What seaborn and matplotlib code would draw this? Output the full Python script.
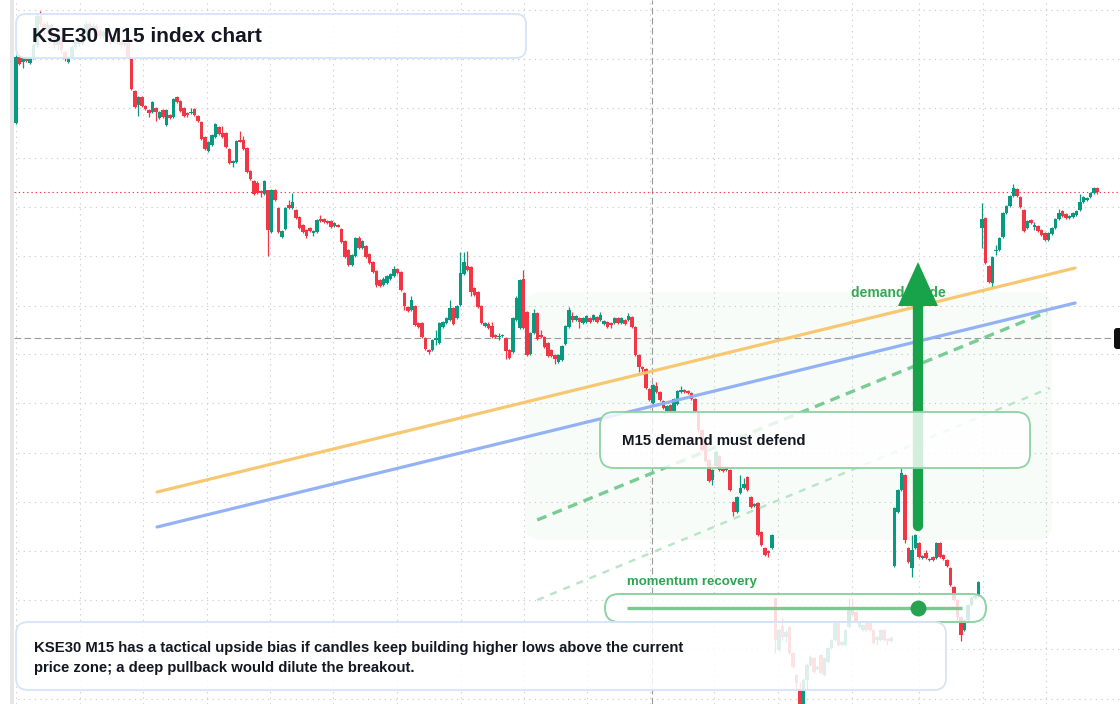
import numpy as np
import pandas as pd
import matplotlib
matplotlib.use("Agg")
import matplotlib.pyplot as plt
import seaborn as sns
from matplotlib.patches import FancyBboxPatch, Polygon, Rectangle
from matplotlib.transforms import IdentityTransform

# ---------------- data (M15 candles, index points) ----------------
opens = [
    877, 943, 938, 942, 937, 942, 955, 984, 976, 970,
    975, 965, 955, 962, 948, 938, 943, 953, 960, 956,
    967, 976, 970, 974, 969, 964, 968, 962, 959, 963,
    958, 955, 957, 942, 909, 895, 903, 894, 890, 888,
    892, 882, 890, 875, 885, 883, 903, 899, 892, 887,
    887, 891, 884, 878, 863, 849, 855, 863, 873, 867,
    867, 851, 837, 838, 860, 860, 852, 829, 819, 817,
    809, 806, 810, 768, 810, 792, 763, 771, 795, 792,
    790, 783, 775, 770, 772, 767, 768, 781, 781, 779,
    779, 774, 775, 771, 759, 750, 735, 744, 762, 752,
    754, 746, 738, 729, 720, 715, 717, 721, 724, 731,
    728, 707, 693, 690, 694, 677, 677, 662, 650, 650,
    660, 657, 673, 677, 680, 692, 682, 695, 726, 734,
    733, 712, 708, 694, 674, 676, 674, 665, 663, 664,
    662, 650, 648, 680, 672, 721, 688, 646, 667, 687,
    665, 663, 657, 650, 645, 638, 640, 656, 673, 684,
    680, 682, 677, 678, 682, 680, 683, 680, 676, 678,
    677, 677, 682, 677, 680, 680, 683, 673, 645, 633,
    631, 611, 597, 614, 608, 599, 589, 595, 589, 596,
    608, 610, 609, 607, 601, 587, 570, 560, 540, 520,
    534, 544, 531, 530, 530, 498, 488, 507, 512, 523,
    503, 494, 497, 468, 452, 449, 452, 402, 350, 374,
    363, 373, 347, 325, 310, 270, 320, 335, 342, 331,
    345, 325, 338, 352, 360, 377, 355, 355, 373, 390,
    388, 373, 370, 377, 378, 370, 360, 360, 370, 361,
    359, 434, 488, 510, 525, 452, 432, 452, 457, 442,
    447, 440, 443, 442, 457, 445, 440, 432, 413, 400,
    383, 370, 380, 395, 402, 404, 772, 782, 734, 717,
    749, 750, 763, 787, 794, 804, 811, 803, 790, 772,
    780, 773, 774, 770, 767, 760, 766, 772, 781, 789,
    786, 782, 783, 785, 790, 798, 800, 803, 807, 812,
]
highs = [
    945, 944, 943, 943, 943, 957, 986, 989, 978, 979,
    977, 967, 964, 964, 950, 944, 955, 963, 962, 970,
    979, 978, 977, 976, 971, 970, 970, 964, 965, 965,
    960, 959, 959, 943, 910, 904, 904, 895, 891, 899,
    893, 889, 891, 891, 886, 902, 904, 900, 893, 888,
    892, 892, 885, 879, 864, 859, 866, 877, 874, 874,
    868, 852, 840, 860, 869, 864, 853, 830, 820, 819,
    810, 820, 810, 811, 811, 793, 770, 793, 800, 807,
    791, 784, 776, 771, 773, 770, 781, 785, 782, 780,
    780, 778, 776, 772, 760, 751, 746, 763, 764, 760,
    755, 747, 739, 730, 721, 723, 725, 727, 734, 732,
    729, 708, 694, 704, 695, 678, 678, 663, 651, 661,
    670, 678, 679, 683, 700, 693, 695, 748, 748, 749,
    734, 713, 709, 695, 678, 678, 678, 666, 667, 666,
    663, 651, 683, 704, 721, 730, 689, 668, 691, 688,
    670, 664, 658, 651, 646, 646, 655, 675, 693, 688,
    685, 683, 683, 685, 683, 686, 684, 688, 680, 679,
    678, 683, 683, 683, 681, 687, 684, 674, 646, 634,
    632, 612, 616, 618, 609, 600, 595, 596, 602, 610,
    614, 611, 610, 608, 602, 588, 571, 561, 541, 531,
    550, 545, 532, 533, 531, 499, 504, 525, 522, 524,
    504, 497, 498, 469, 453, 450, 466, 402, 372, 382,
    370, 374, 348, 326, 318, 322, 337, 345, 343, 335,
    346, 343, 353, 361, 379, 378, 359, 371, 402, 402,
    389, 379, 376, 378, 379, 371, 364, 371, 371, 362,
    364, 493, 511, 532, 526, 453, 465, 466, 458, 445,
    450, 442, 444, 458, 458, 446, 441, 433, 414, 401,
    384, 381, 396, 404, 406, 419, 797, 783, 735, 744,
    755, 763, 788, 795, 805, 816, 812, 804, 791, 780,
    781, 778, 775, 771, 768, 768, 773, 782, 791, 790,
    787, 785, 788, 790, 806, 804, 803, 808, 813, 813,
]
lows = [
    876, 935, 932, 938, 936, 941, 953, 974, 966, 967,
    962, 952, 950, 947, 939, 937, 942, 951, 954, 955,
    965, 967, 968, 966, 962, 962, 960, 956, 957, 956,
    952, 953, 942, 910, 892, 884, 893, 890, 883, 887,
    879, 881, 882, 874, 881, 882, 897, 888, 883, 883,
    886, 884, 878, 860, 850, 848, 854, 862, 865, 862,
    852, 836, 833, 837, 858, 850, 827, 820, 805, 806,
    803, 805, 744, 767, 799, 767, 762, 770, 791, 791,
    781, 771, 767, 762, 768, 764, 767, 778, 777, 776,
    772, 773, 773, 757, 742, 734, 734, 743, 751, 751,
    742, 736, 727, 713, 713, 714, 716, 720, 723, 726,
    709, 690, 688, 689, 674, 672, 662, 650, 646, 649,
    655, 656, 672, 676, 679, 675, 681, 694, 725, 729,
    704, 704, 692, 676, 673, 671, 662, 662, 660, 663,
    641, 641, 647, 679, 671, 671, 644, 645, 666, 660,
    662, 652, 643, 643, 636, 637, 639, 655, 672, 678,
    679, 672, 676, 677, 677, 679, 677, 679, 675, 672,
    672, 676, 676, 676, 675, 679, 672, 644, 628, 628,
    611, 599, 596, 607, 599, 591, 588, 588, 588, 595,
    607, 607, 606, 600, 588, 568, 549, 538, 518, 515,
    533, 529, 528, 529, 509, 484, 487, 506, 511, 509,
    492, 493, 464, 454, 444, 443, 451, 347, 349, 360,
    358, 346, 332, 310, 265, 268, 310, 334, 327, 330,
    326, 324, 337, 351, 359, 354, 354, 354, 372, 384,
    377, 372, 369, 369, 369, 356, 355, 359, 359, 355,
    358, 433, 487, 509, 457, 437, 423, 451, 442, 441,
    441, 439, 439, 441, 442, 440, 433, 414, 399, 378,
    359, 369, 379, 394, 401, 403, 752, 736, 717, 713,
    745, 749, 762, 786, 793, 803, 803, 792, 768, 771,
    776, 770, 768, 764, 759, 759, 765, 771, 780, 783,
    781, 781, 782, 784, 789, 797, 799, 802, 806, 806,
]
closes = [
    943, 936, 942, 939, 942, 955, 984, 976, 970, 975,
    965, 955, 962, 950, 941, 943, 953, 960, 956, 967,
    976, 970, 974, 969, 964, 968, 962, 959, 963, 958,
    955, 957, 943, 911, 893, 903, 894, 891, 887, 898,
    888, 888, 883, 890, 882, 901, 898, 889, 884, 886,
    888, 885, 879, 861, 851, 858, 865, 876, 866, 863,
    853, 837, 839, 859, 859, 851, 828, 821, 806, 807,
    807, 819, 770, 810, 800, 768, 769, 792, 792, 798,
    782, 772, 768, 764, 769, 769, 780, 779, 778, 777,
    773, 777, 774, 758, 743, 735, 745, 762, 752, 759,
    743, 737, 728, 715, 714, 721, 724, 726, 731, 727,
    710, 694, 689, 700, 675, 673, 663, 651, 648, 660,
    662, 677, 678, 682, 692, 676, 694, 727, 738, 730,
    708, 705, 693, 677, 677, 672, 663, 663, 664, 665,
    649, 642, 682, 702, 720, 672, 645, 667, 687, 661,
    663, 653, 644, 644, 641, 645, 654, 674, 690, 680,
    684, 678, 682, 684, 678, 685, 678, 685, 679, 673,
    675, 682, 677, 682, 676, 684, 673, 645, 633, 632,
    612, 600, 615, 608, 600, 592, 594, 589, 601, 609,
    610, 608, 607, 601, 589, 570, 550, 539, 519, 530,
    548, 530, 529, 532, 510, 488, 503, 512, 516, 510,
    493, 496, 465, 455, 445, 447, 465, 360, 370, 363,
    368, 347, 333, 317, 270, 320, 335, 343, 328, 333,
    327, 342, 352, 360, 377, 355, 358, 370, 390, 385,
    378, 378, 375, 370, 370, 357, 363, 370, 360, 360,
    362, 492, 510, 527, 460, 438, 450, 465, 443, 444,
    442, 441, 440, 457, 443, 441, 434, 415, 400, 383,
    365, 380, 395, 402, 404, 418, 781, 737, 718, 743,
    750, 762, 787, 794, 804, 812, 804, 793, 769, 779,
    777, 775, 769, 765, 760, 767, 772, 781, 787, 784,
    782, 784, 787, 789, 798, 803, 802, 807, 812, 808,
]

time_grid = [0, 18.3, 36.3, 54.6, 72.6, 90.6, 108.9, 127.1, 145.1, 163.1,
             181.1, 199.4, 217.7, 238.9, 258.0, 276.3, 294.3]
price_grid = [990, 941, 892, 842, 793, 744, 694, 646, 597, 547, 498, 449, 400, 351, 301]
crosshair_bar = 181.7
crosshair_price = 662

# analyst drawings: (bar0, price0, bar1, price1)
trend_orange = [40.3, 508, 302.6, 732]
trend_blue = [40.3, 473, 302.6, 697]
guide_dash = [148.9, 480, 294.6, 688]
guide_faint = [148.9, 400, 295.4, 612]

title = "KSE30 M15 index chart"
box_label = "M15 demand must defend"
guide_label = "demand guide"
momentum_label = "momentum recovery"
note_lines = ["KSE30 M15 has a tactical upside bias if candles keep building higher lows above the current",
              "price zone; a deep pullback would dilute the breakout."]

# ---------------- styling ----------------
sns.set_theme(style="white")
plt.rcParams['font.family'] = ['Liberation Sans', 'DejaVu Sans']

W, H = 1120, 704
UP, DOWN = '#089981', '#f23645'
TXT = '#131722'

fig = plt.figure(figsize=(W / 100, H / 100), dpi=100)
fig.patch.set_facecolor('white')
fig.patches.append(Rectangle((10 / W, 0), 4 / W, 1, transform=fig.transFigure,
                             facecolor='#e6e6e6', edgecolor='none'))
ax = fig.add_axes([14 / W, 0, 1 - 14 / W, 1])

ID = IdentityTransform()


def disp(x, y):
    return x, H - y


# grid
ax.vlines(time_grid, 296, 1000, colors='#cfcfcf', lw=0.8, linestyles=(0, (1.2, 3.8)), zorder=1)
ax.hlines(price_grid, -1, 320, colors='#cfcfcf', lw=0.8, linestyles=(0, (1.2, 3.8)), zorder=1)

# demand zone
zx0, zy0 = disp(525, 540)
ax.add_patch(FancyBboxPatch((zx0, zy0), 1052 - 525, 540 - 292, boxstyle="round,pad=0,rounding_size=16",
                            transform=ID, facecolor=(0.13, 0.77, 0.37, 0.035), edgecolor='none',
                            zorder=1.5))

# crosshair
ax.axvline(crosshair_bar, color='#9a9a9a', lw=0.8, ls=(0, (6, 3)), zorder=2)
ax.axhline(crosshair_price, color='#9a9a9a', lw=0.8, ls=(0, (6, 3)), zorder=2)

# candles
df = pd.DataFrame({'open': opens, 'high': highs, 'low': lows, 'close': closes})
df['bar'] = np.arange(len(df))
up = df['close'] >= df['open']
cols = np.where(up, UP, DOWN)
body = df['close'] - df['open']
body = np.where(np.abs(body) < 1.5, np.where(up, 1.5, -1.5), body)
ax.vlines(df['bar'], df['low'], df['high'], colors=cols, lw=0.9, zorder=3)
ax.bar(df['bar'], body, bottom=df['open'], width=0.86, color=cols, linewidth=0, zorder=3)

# last price line
ax.axhline(df['close'].iloc[-1], color=DOWN, lw=0.8, ls=(0, (1.2, 2.6)), zorder=2.5)


# trend lines via seaborn
def seg(vals, name):
    return pd.DataFrame({'bar': [vals[0], vals[2]], 'price': [vals[1], vals[3]], 'line': name})


sns.lineplot(data=seg(trend_orange, 'o'), x='bar', y='price', color='#f7c56a', lw=2.3,
             alpha=0.95, ax=ax, zorder=4, legend=False)
sns.lineplot(data=seg(trend_blue, 'b'), x='bar', y='price', color='#8eaef3', lw=2.3,
             alpha=0.95, ax=ax, zorder=4, legend=False)
sns.lineplot(data=seg(guide_dash, 'g'), x='bar', y='price', color='#79cc93', lw=2.4,
             ax=ax, zorder=4, legend=False, linestyle=(0, (3.0, 2.0)))
sns.lineplot(data=seg(guide_faint, 'f'), x='bar', y='price', color='#b8e5c5', lw=1.7,
             ax=ax, zorder=4, legend=False, linestyle=(0, (3.0, 3.0)))
ax.set_xlim(-0.571, 315.43)
ax.set_ylim(296, 1000)
ax.axis('off')

# demand guide label (under the arrow)
ax.text(*disp(851, 293), guide_label, transform=ID, ha='left', va='center',
        fontsize=10, fontweight='bold', color='#34a853', zorder=4.5)

# arrow
ax.plot(*zip(disp(918, 526), disp(918, 305)), transform=ID, color='#18a34a', lw=7.4,
        solid_capstyle='round', zorder=5)
ax.add_patch(Polygon([disp(898, 306), disp(938, 306), disp(918, 262)], closed=True,
                     transform=ID, facecolor='#18a34a', edgecolor='none', zorder=5))

# demand box
bx, by = disp(600, 468)
ax.add_patch(FancyBboxPatch((bx, by), 430, 56, boxstyle="round,pad=0,rounding_size=14",
                            transform=ID, facecolor=(1, 1, 1, 0.82), edgecolor='#8ed3a2',
                            lw=1.3, zorder=6, clip_on=False))
ax.text(*disp(622, 441), box_label, transform=ID, ha='left', va='center', fontsize=10.8,
        fontweight='bold', color=TXT, zorder=9)

# momentum pill
px0, py0 = disp(605, 622)
ax.add_patch(FancyBboxPatch((px0, py0), 381, 28, boxstyle="round,pad=0,rounding_size=14",
                            transform=ID, facecolor=(1, 1, 1, 0.82), edgecolor='#8ed3a2',
                            lw=1.4, zorder=6, clip_on=False))
ax.plot(*zip(disp(627, 608), disp(962, 608)), transform=ID, color='#7cc995', lw=2.4,
        solid_capstyle='butt', zorder=7)
ax.plot(*disp(918, 608), 'o', transform=ID, color='#27a251', ms=11.5, mew=0, zorder=7.5)
ax.text(*disp(627, 582), momentum_label, transform=ID, ha='left', va='center', fontsize=9.5,
        fontweight='bold', color='#2aa652', zorder=9)

# title box
tx, ty = disp(16, 58)
ax.add_patch(FancyBboxPatch((tx, ty), 510, 44, boxstyle="round,pad=0,rounding_size=10",
                            transform=ID, facecolor=(1, 1, 1, 0.86), edgecolor='#d6e4f8',
                            lw=1.3, zorder=8, clip_on=False))
ax.text(*disp(32, 36), title, transform=ID, ha='left', va='center', fontsize=15,
        fontweight='bold', color=TXT, zorder=9)

# note box
nx, ny = disp(16, 690)
ax.add_patch(FancyBboxPatch((nx, ny), 930, 68, boxstyle="round,pad=0,rounding_size=12",
                            transform=ID, facecolor=(1, 1, 1, 0.86), edgecolor='#d6e4f8',
                            lw=1.3, zorder=8, clip_on=False))
ax.text(*disp(34, 648), note_lines[0], transform=ID, ha='left', va='center', fontsize=10.75,
        fontweight='bold', color=TXT, zorder=9)
ax.text(*disp(34, 668), note_lines[1], transform=ID, ha='left', va='center', fontsize=10.75,
        fontweight='bold', color=TXT, zorder=9)

# crosshair price tag stub at right edge
cx, cy = disp(1114, 349)
ax.add_patch(FancyBboxPatch((cx, cy), 12, 21, boxstyle="round,pad=0,rounding_size=3",
                            transform=ID, facecolor='#111111', edgecolor='none', zorder=9,
                            clip_on=False))

fig.savefig('out.png', dpi=100)
